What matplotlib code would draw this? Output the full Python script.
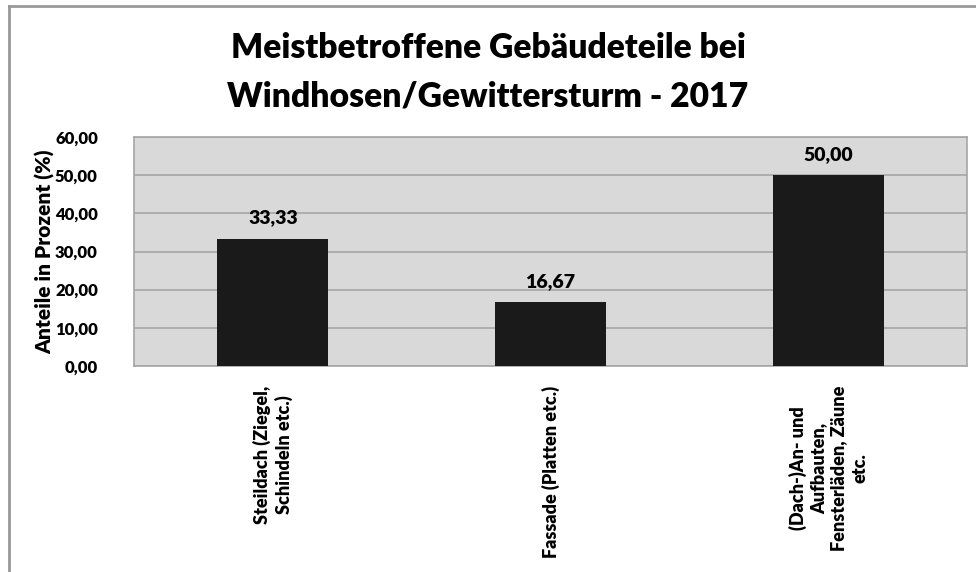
import matplotlib.pyplot as plt
from matplotlib.lines import Line2D

plt.rcParams['font.family'] = ['Lato', 'DejaVu Sans']
plt.rcParams['font.weight'] = 'heavy'

kategorien = ["Steildach (Ziegel,\nSchindeln etc.)",
              "Fassade (Platten etc.)",
              "(Dach-)An- und\nAufbauten,\nFensterläden, Zäune\netc."]
anteile = [33.33, 16.67, 50.00]
y_ticks = [0, 10, 20, 30, 40, 50, 60]
W = 'heavy'

fig = plt.figure(figsize=(9.76, 5.72), dpi=100)
ax = fig.add_axes([134 / 976, 1 - 366 / 572, (967 - 134) / 976, (366 - 137) / 572])

x = range(len(kategorien))
bars = ax.bar(x, anteile, width=0.4, color='#1a1a1a', zorder=3)

ax.set_xlim(-0.5, len(kategorien) - 0.5)
ax.set_ylim(0, 60)
ax.set_yticks(y_ticks)
ax.set_yticklabels([f"{v:.2f}".replace('.', ',') for v in y_ticks], fontsize=12, fontweight=W)
ax.set_facecolor('#d9d9d9')
ax.grid(axis='y', color='#a6a6a6', linewidth=1.2, zorder=0)
for s in ax.spines.values():
    s.set_color('#a6a6a6')
    s.set_linewidth(1.2)
ax.tick_params(axis='both', length=0)
ax.tick_params(axis='y', pad=26)

ax.set_xticks(list(x))
ax.set_xticklabels(kategorien, rotation=90, fontsize=13, fontweight=W,
                   multialignment='center', va='top', ha='center', linespacing=1.25)
ax.tick_params(axis='x', pad=14)

for b, v in zip(bars, anteile):
    ax.annotate(f"{v:.2f}".replace('.', ','), (b.get_x() + b.get_width() / 2, v),
                xytext=(0, 9), textcoords='offset points', ha='center', va='bottom',
                fontsize=14, fontweight=W)

ax.set_ylabel("Anteile in Prozent (%)", fontsize=15, fontweight=W, labelpad=0)

fig.text(0.5, 1 - 48 / 572, "Meistbetroffene Gebäudeteile bei", ha='center', va='center',
         fontsize=24.2, fontweight=W)
fig.text(0.5, 1 - 96 / 572, "Windhosen/Gewittersturm - 2017", ha='center', va='center',
         fontsize=24.2, fontweight=W)

# outer chart frame, top and left edges only
fig.add_artist(Line2D([9 / 976, 1], [1 - 6 / 572, 1 - 6 / 572], color='#999999', linewidth=2,
                      transform=fig.transFigure))
fig.add_artist(Line2D([9 / 976, 9 / 976], [0, 1 - 6 / 572], color='#999999', linewidth=2,
                      transform=fig.transFigure))

fig.savefig('out.png', dpi=100)
